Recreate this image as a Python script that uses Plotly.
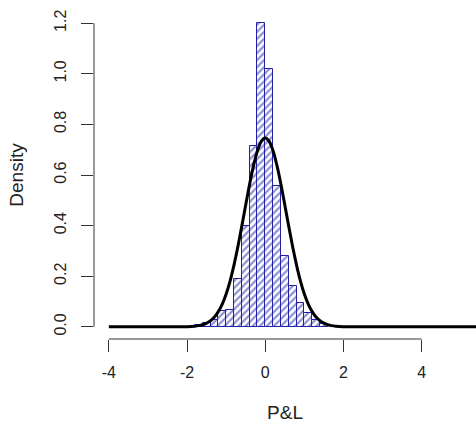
import plotly.graph_objects as go

# Histogram (density scale), bins of width 0.2
bin_left = [-1.8, -1.6, -1.4, -1.2, -1.0, -0.8, -0.6, -0.4, -0.2, 0.0,
            0.2, 0.4, 0.6, 0.8, 1.0, 1.2, 1.4]
density = [0.008, 0.017, 0.028, 0.063, 0.066, 0.19, 0.40, 0.713, 1.20, 1.02,
           0.555, 0.28, 0.162, 0.096, 0.054, 0.028, 0.012]
bin_width = 0.2

# Fitted normal density curve
curve_x = [-4.0, -2.4, -2.0, -1.8, -1.7, -1.6, -1.5, -1.4, -1.3, -1.2, -1.1, -1.0,
           -0.9, -0.8, -0.7, -0.6, -0.5, -0.4, -0.3, -0.2, -0.1, 0.0,
           0.1, 0.2, 0.3, 0.4, 0.5, 0.6, 0.7, 0.8, 0.9, 1.0, 1.1, 1.2,
           1.3, 1.4, 1.5, 1.6, 1.7, 1.8, 2.0, 2.4, 6.0]
curve_y = [0.0, 0.0, 0.0007, 0.0026, 0.0048, 0.0085, 0.0147, 0.0243, 0.039, 0.0603, 0.090, 0.130,
           0.181, 0.244, 0.317, 0.398, 0.482, 0.564, 0.637, 0.696, 0.733, 0.746,
           0.733, 0.696, 0.637, 0.564, 0.482, 0.398, 0.317, 0.244, 0.181, 0.130, 0.090, 0.0603,
           0.039, 0.0243, 0.0147, 0.0085, 0.0048, 0.0026, 0.0007, 0.0, 0.0]

x_ticks = [-4, -2, 0, 2, 4]
y_ticks = [0.0, 0.2, 0.4, 0.6, 0.8, 1.0, 1.2]
y_ticktext = ["0.0", "0.2", "0.4", "0.6", "0.8", "1.0", "1.2"]

bar_x = [b + bin_width / 2 for b in bin_left]

hatch = "#2020a8"

fig = go.Figure()
fig.add_trace(go.Bar(
    x=bar_x, y=density, width=[bin_width] * len(bar_x),
    marker=dict(
        color="white",
        line=dict(color=hatch, width=1),
        pattern=dict(shape="/", fgcolor=hatch, bgcolor="white", size=5, solidity=0.45),
    ),
    showlegend=False,
))
fig.add_trace(go.Scatter(
    x=curve_x, y=curve_y, mode="lines",
    line=dict(color="black", width=3, shape="spline", smoothing=0.6),
    showlegend=False,
))

font = dict(family="Liberation Sans, Arial, sans-serif", size=16, color="#222222")

fig.update_layout(
    width=476, height=426,
    margin=dict(l=94, r=0, t=11, b=87),
    paper_bgcolor="white", plot_bgcolor="white",
    font=font,
    bargap=0,
    xaxis=dict(
        range=[-4.38, 5.39], tickvals=x_ticks, ticktext=[str(v) for v in x_ticks],
        ticks="outside", ticklen=12, tickwidth=1, tickcolor="#333333",
        ticklabelstandoff=7,
        showline=False, showgrid=False, zeroline=False,
        title=dict(text="P&L", standoff=25), tickfont=font,
    ),
    yaxis=dict(
        range=[-0.048, 1.248], tickvals=y_ticks, ticktext=y_ticktext,
        tickangle=-90,
        ticks="outside", ticklen=12, tickwidth=1, tickcolor="#333333",
        ticklabelstandoff=9,
        showline=False, showgrid=False, zeroline=False,
        title=dict(text="Density", standoff=22), tickfont=font,
    ),
    shapes=[
        dict(type="line", xref="x", yref="paper", x0=-4, x1=4, y0=0, y1=0,
             line=dict(color="#333333", width=1)),
        dict(type="line", xref="paper", yref="y", x0=0, x1=0, y0=0, y1=1.2,
             line=dict(color="#333333", width=1)),
    ],
)

fig.write_html("out.html", config={"displayModeBar": False},
               post_script="document.body.style.margin='0';")
